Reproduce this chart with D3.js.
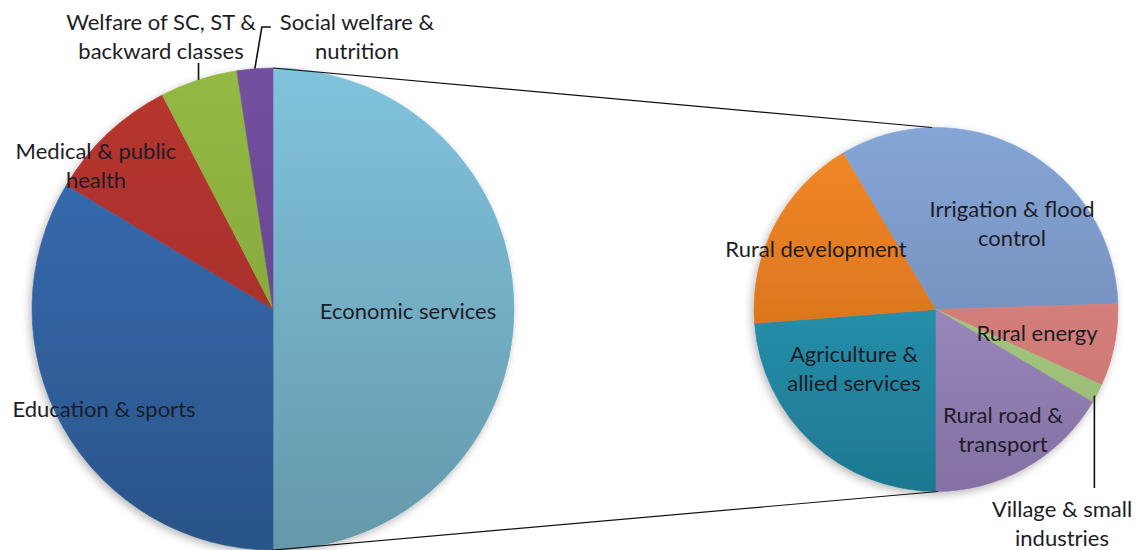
<!DOCTYPE html>
<html>
<head>
<meta charset="utf-8">
<script src="https://cdn.jsdelivr.net/npm/d3@7"></script>
<style>
  html, body { margin: 0; padding: 0; background: #ffffff; }
  svg { display: block; }
  text { font-family: Lato, "Open Sans", sans-serif; }
</style>
</head>
<body>
<svg id="chart" width="1137" height="550"></svg>
<script>
// ---------------- data ----------------
const mainCategories = [
  "Economic services",
  "Education & sports",
  "Medical & public health",
  "Welfare of SC, ST & backward classes",
  "Social welfare & nutrition"
];
const mainValues = [50.0, 33.6, 8.8, 5.2, 2.4];

const subCategories = [
  "Agriculture & allied services",
  "Rural development",
  "Irrigation & flood control",
  "Rural energy",
  "Village & small industries",
  "Rural road & transport"
];
const subValues = [23.8, 17.7, 33.0, 7.3, 1.7, 16.5];

const mainLabelLines = [
  ["Economic services"],
  ["Education & sports"],
  ["Medical & public", "health"],
  ["Welfare of SC, ST &", "backward classes"],
  ["Social welfare &", "nutrition"]
];
const subLabelLines = [
  ["Agriculture &", "allied services"],
  ["Rural development"],
  ["Irrigation & flood", "control"],
  ["Rural energy"],
  ["Village & small", "industries"],
  ["Rural road &", "transport"]
];

// ---------------- styles / layout ----------------
const mainColors = [
  ["#80C3DC", "#6598AB"],
  ["#3A6FB8", "#2A5489"],
  ["#B8352F", "#9A2C29"],
  ["#93B944", "#7D9D36"],
  ["#7450A0", "#5D3F84"]
];
const subColors = [
  ["#2DA3C3", "#1E7891"],
  ["#F38A28", "#C86516"],
  ["#85A5D7", "#6A81AA"],
  ["#E08A86", "#C7726F"],
  ["#B0D48A", "#97B772"],
  ["#AC9DD1", "#8470A3"]
];

const W = 1137, H = 550;
const mainPie = { cx: 273, cy: 309, r: 241 };
const subPie = { cx: 936, cy: 309.5, r: 182 };
const fontSize = 22, lineH = 29;

// label anchor (center of text block) in px, plus leader style
const mainLabelPos = [
  { x: 408, y: 310 },
  { x: 104, y: 408 },
  { x: 96,  y: 164 },
  { x: 161, y: 35 },
  { x: 357, y: 35 }
];
const subLabelPos = [
  { x: 854, y: 367 },
  { x: 816, y: 248 },
  { x: 1012, y: 222 },
  { x: 1037, y: 332 },
  { x: 1062, y: 522 },
  { x: 1003, y: 428 }
];

const svg = d3.select("#chart");
const defs = svg.append("defs");

const shadow = defs.append("filter").attr("id", "shadow")
  .attr("x", "-10%").attr("y", "-10%").attr("width", "120%").attr("height", "120%");
shadow.append("feDropShadow")
  .attr("dx", -2).attr("dy", 3).attr("stdDeviation", 4)
  .attr("flood-color", "#000").attr("flood-opacity", 0.28);

function drawPie(values, colors, pieGeo, startAngle, idPrefix) {
  const pie = d3.pie().sort(null).value(d => d)
    .startAngle(startAngle).endAngle(startAngle + 2 * Math.PI);
  const arcs = pie(values);
  const arc = d3.arc().innerRadius(0).outerRadius(pieGeo.r);

  const g = svg.append("g")
    .attr("transform", `translate(${pieGeo.cx},${pieGeo.cy})`);

  colors.forEach((c, i) => {
    const grad = defs.append("linearGradient")
      .attr("id", `${idPrefix}${i}`)
      .attr("gradientUnits", "userSpaceOnUse")
      .attr("x1", 0).attr("y1", -pieGeo.r)
      .attr("x2", 0).attr("y2", pieGeo.r);
    grad.append("stop").attr("offset", "0%").attr("stop-color", c[0]);
    grad.append("stop").attr("offset", "100%").attr("stop-color", c[1]);
  });

  const sl = g.append("g").attr("filter", "url(#shadow)");
  sl.selectAll("path").data(arcs).enter().append("path")
    .attr("d", arc)
    .attr("fill", (d, i) => `url(#${idPrefix}${i})`)
    .attr("stroke", (d, i) => `url(#${idPrefix}${i})`)
    .attr("stroke-width", 0.6);
  return arcs;
}

const mainArcs = drawPie(mainValues, mainColors, mainPie, 0, "mg");
const subArcs = drawPie(subValues, subColors, subPie, Math.PI, "sg");

function polar(geo, angle, rr) {
  return [geo.cx + rr * Math.sin(angle), geo.cy - rr * Math.cos(angle)];
}

// connector lines between the split slice and the sub pie
const econ = mainArcs[0];
const pA = polar(mainPie, econ.startAngle, mainPie.r);
const pB = polar(mainPie, econ.endAngle, mainPie.r);
const qA = polar(subPie, 0, subPie.r);
const qB = polar(subPie, Math.PI, subPie.r);
svg.append("line").attr("x1", pA[0]).attr("y1", pA[1]).attr("x2", qA[0] - 4).attr("y2", qA[1])
  .attr("stroke", "#111").attr("stroke-width", 1.2);
svg.append("line").attr("x1", pB[0]).attr("y1", pB[1]).attr("x2", qB[0] + 2).attr("y2", qB[1])
  .attr("stroke", "#111").attr("stroke-width", 1.2);

// leader lines
function midAngle(d) { return (d.startAngle + d.endAngle) / 2; }
const lead = svg.append("g").attr("fill", "none").attr("stroke", "#111").attr("stroke-width", 1.6);
{
  const p = polar(mainPie, midAngle(mainArcs[3]), mainPie.r);
  lead.append("path").attr("d", `M${p[0]},${p[1]}V${mainLabelPos[3].y + 28}`);
}
{
  const p = polar(mainPie, midAngle(mainArcs[4]), mainPie.r);
  lead.append("path").attr("d", `M${p[0]},${p[1]}L${p[0] + 7},${mainLabelPos[4].y - 8}H${p[0] + 16}`);
}
{
  const p = polar(subPie, midAngle(subArcs[4]), subPie.r);
  lead.append("path").attr("d", `M${p[0] - 3},${p[1] + 2}V${subLabelPos[4].y - 34}`);
}

// labels
function drawLabels(lines, pos) {
  const g = svg.append("g")
    .attr("font-size", fontSize)
    .attr("fill", "#1d1d26")
    .attr("text-anchor", "middle");
  lines.forEach((ls, i) => {
    const t = g.append("text")
      .attr("x", pos[i].x)
      .attr("y", pos[i].y - (ls.length - 1) * lineH / 2)
      .attr("dominant-baseline", "central");
    ls.forEach((s, j) => {
      t.append("tspan").attr("x", pos[i].x).attr("dy", j === 0 ? 0 : lineH).text(s);
    });
  });
}
drawLabels(mainLabelLines, mainLabelPos);
drawLabels(subLabelLines, subLabelPos);
</script>
</body>
</html>
